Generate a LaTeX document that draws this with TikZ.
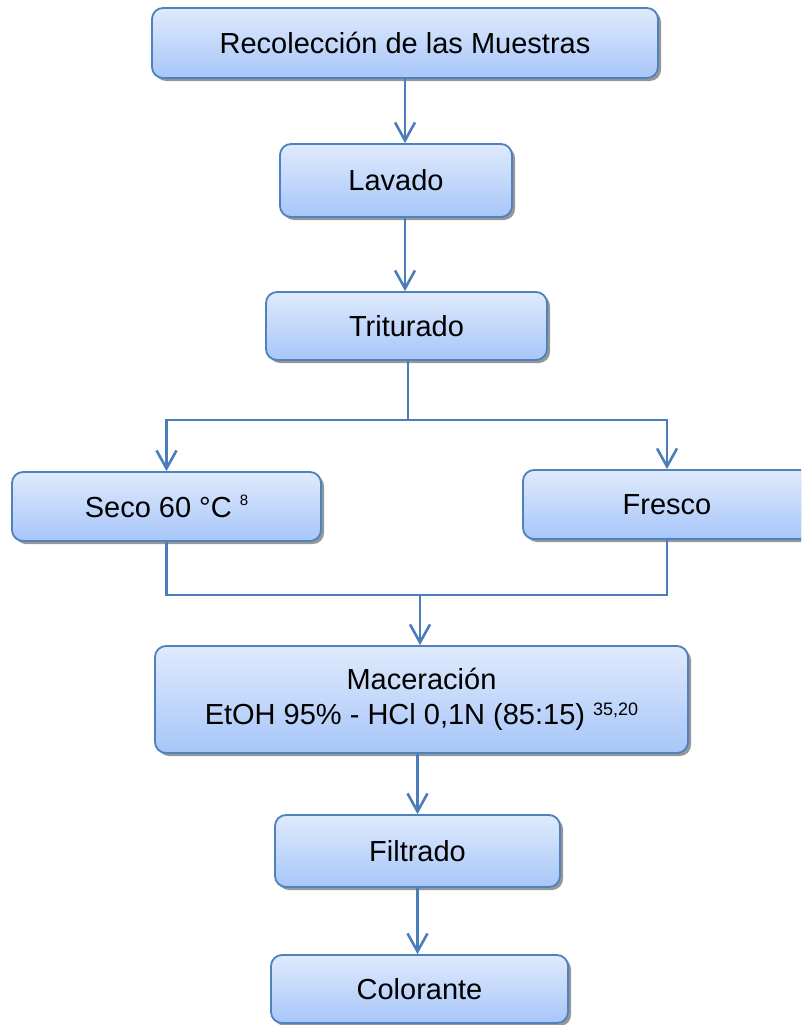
\documentclass[tikz,border=0pt]{standalone}
\usepackage{fontspec}
\setmainfont{Liberation Sans}
\usetikzlibrary{arrows.meta,shadows}
\definecolor{bord}{HTML}{4F81BD}
\definecolor{arr}{HTML}{4A7EBB}
\definecolor{topc}{HTML}{DFEAFC}
\definecolor{botc}{HTML}{A7C6F9}
\newcommand{\supr}[3]{{\fontsize{#1}{#1}\selectfont\raisebox{#2pt}{#3}}}
\tikzset{
  procbox/.style={draw=bord, line width=1.8pt, rounded corners=11pt,
    top color=topc, bottom color=botc, inner sep=0pt,
    drop shadow={shadow xshift=3pt, shadow yshift=-3pt, fill=black!45, opacity=0.9},
    font=\fontsize{29}{35}\selectfont, align=center},
  flow/.style={draw=arr, line width=2.6pt, line cap=butt},
  flowarrow/.style={flow, -{Straight Barb[length=18pt,width=20pt,line width=2.6pt]}}
}
\begin{document}
\begin{tikzpicture}[x=1pt,y=-1pt]
\useasboundingbox (0,0) rectangle (801,1025);
\clip (0,0) rectangle (801,1025);
\node[procbox, minimum width=506pt, minimum height=70pt] (rec) at (405,43) {Recolección de las Muestras};
\node[procbox, minimum width=232pt, minimum height=73pt] (lav) at (396,180.5) {Lavado};
\node[procbox, minimum width=281pt, minimum height=68pt] (tri) at (406.5,326) {Triturado};
\node[procbox, minimum width=309pt, minimum height=69pt] (seco) at (166.5,506.5) {Seco 60 °C \supr{15}{12}{8}};
\node[procbox, minimum width=288pt, minimum height=69pt] (fres) at (667,504.5) {Fresco};
\node[procbox, minimum width=533pt, minimum height=107pt] (mac) at (421.5,699.5) {Maceración\\EtOH 95\% - HCl 0,1N (85:15) \supr{18}{9}{35,20}};
\node[procbox, minimum width=285pt, minimum height=72pt] (fil) at (417.5,851) {Filtrado};
\node[procbox, minimum width=297pt, minimum height=68pt] (col) at (419.5,989) {Colorante};

\coordinate (split) at (408,420);
\coordinate (merge) at (420,595);

\draw[flowarrow] (rec.south) -- (rec.south |- lav.north);
\draw[flowarrow] (lav.south -| rec.south) -- (tri.north -| rec.south);
\draw[flow] (tri.south -| split) -- (split);
\draw[flowarrow] (split) -| (seco.north);
\draw[flowarrow] (split) -| (fres.north);
\draw[flow] (seco.south) |- (merge);
\draw[flow] (fres.south) |- (merge);
\draw[flowarrow] (merge) -- (merge |- mac.north);
\draw[flowarrow] (fil.north |- mac.south) -- (fil.north);
\draw[flowarrow] (fil.south) -- (fil.south |- col.north);
\end{tikzpicture}
\end{document}
